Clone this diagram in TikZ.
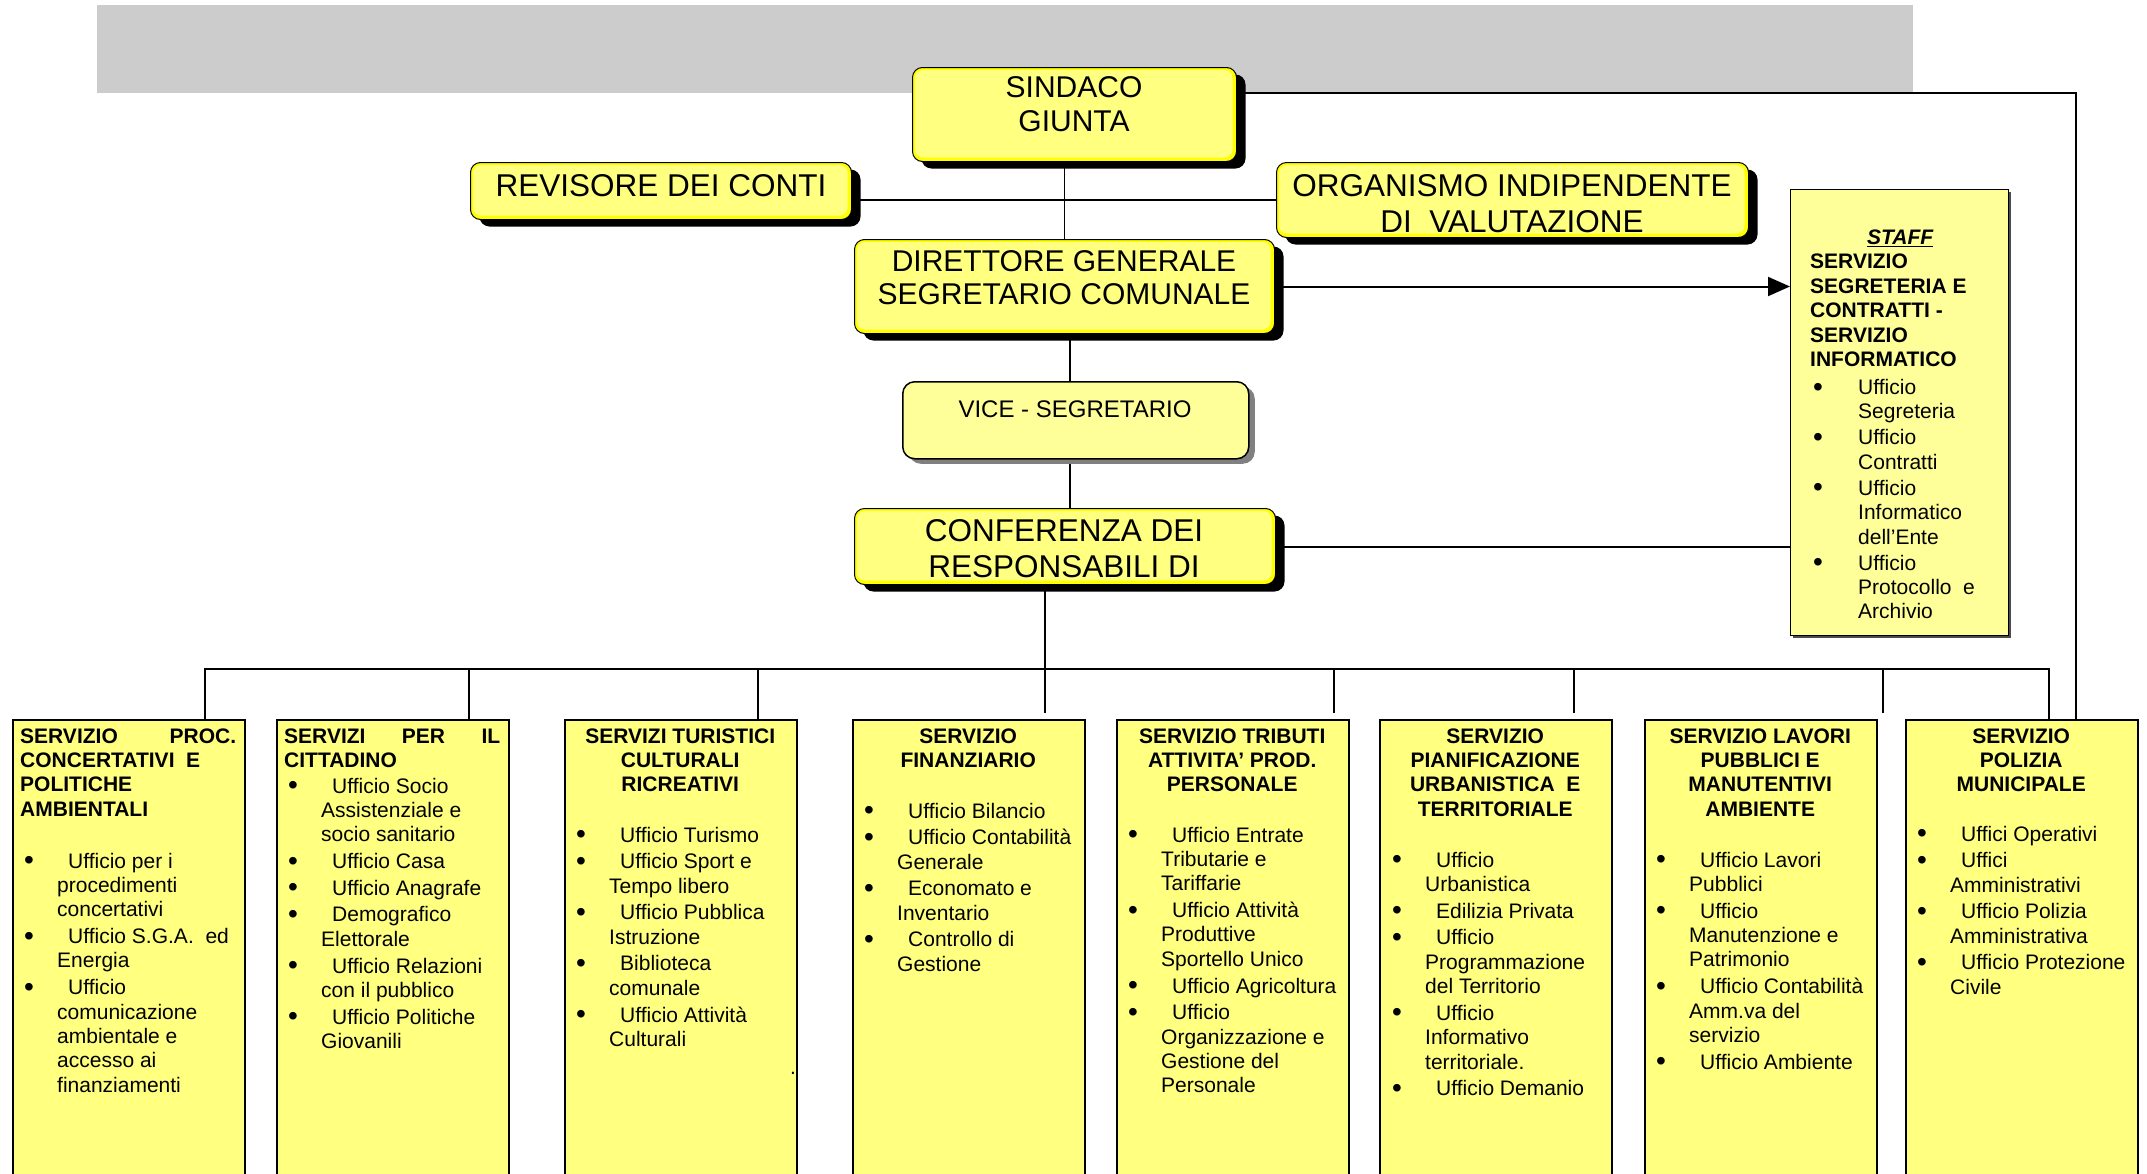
\documentclass[tikz,border=0pt]{standalone}
\usepackage{fontspec}
\setmainfont{Liberation Sans}
\usetikzlibrary{arrows.meta,backgrounds,shadows}
\definecolor{boxy}{RGB}{255,255,128}
\definecolor{boxl}{RGB}{255,255,153}
\definecolor{bandgray}{RGB}{204,204,204}
\definecolor{brightyel}{RGB}{255,255,0}
\newcommand\bigtxt[3]{{\fontsize{#1}{#2}\selectfont\begin{tabular}[t]{@{}c@{}}#3\end{tabular}}}
\newcommand\bigbul{\raisebox{-1.6pt}{\fontsize{28}{24}\selectfont\textbullet}}
\newcommand\bitem{\par\noindent\llap{\bigbul\hspace{23.2pt}}\hspace*{11pt}\ignorespaces}
\newcommand\sitem{\par\noindent\llap{\bigbul\hspace{35.2pt}}\ignorespaces}
\newenvironment{headbox}{\begin{minipage}[t]{216pt}\fontsize{21}{24.4}\selectfont\bfseries\centering}{\end{minipage}}
\newenvironment{itembox}{\begin{minipage}[t]{200pt}\fontsize{21}{24.4}\selectfont\raggedright\parskip=2.3pt\relax}{\end{minipage}}
\begin{document}
\begin{tikzpicture}[x=1pt,y=-1pt,
  bigbox/.style={draw=black, line width=1pt, rounded corners=10pt, fill=brightyel,
    inner sep=0pt, anchor=north west,
    general shadow={fill=black, shadow xshift=9pt, shadow yshift=-7pt},
    path picture={\fill[boxy, rounded corners=8pt]
      ([shift={(2.5pt,-2.5pt)}]path picture bounding box.north west) rectangle
      ([shift={(-4pt,4pt)}]path picture bounding box.south east);}},
  vicebox/.style={draw=black, line width=1.5pt, rounded corners=12pt, fill=boxl,
    inner sep=0pt, anchor=north west,
    general shadow={fill=black!50, shadow xshift=6pt, shadow yshift=-5pt}},
  staffbox/.style={draw=black, line width=1.2pt, fill=boxl, inner sep=0pt, anchor=north west,
    general shadow={fill=black!70, shadow xshift=2.5pt, shadow yshift=-2.5pt}},
  servbox/.style={draw=black, line width=2pt, fill=boxy, inner sep=0pt, anchor=north west,
    minimum width=232pt, minimum height=520pt},
  txt/.style={inner sep=0pt, anchor=base},
  ltxt/.style={inner sep=0pt, anchor=base west},
  conn/.style={line width=1.5pt},
  hconn/.style={line width=2pt},
  bus/.style={line width=2.5pt}
]
\useasboundingbox (0,0) rectangle (2147,1173);

% ---- top boxes
\node[bigbox, minimum width=324pt, minimum height=94pt] (sind) at (912,67) {};
\node[bigbox, minimum width=381pt, minimum height=57pt] (rev) at (470,162) {};
\node[bigbox, minimum width=472pt, minimum height=75pt] (org) at (1276,162) {};
\node[bigbox, minimum width=420pt, minimum height=94pt] (dir) at (854,239) {};
\node[vicebox, minimum width=346pt, minimum height=77pt] (vice) at (902,381) {};
\node[bigbox, minimum width=421pt, minimum height=76pt] (conf) at (854,508) {};
\node[staffbox, minimum width=218pt, minimum height=446pt] (staff) at (1790,189) {};

\node[txt] (sindt) at (1074,97.5) {\bigtxt{30}{34}{SINDACO\\GIUNTA}};
\node[txt] (revt) at (661,196) {\bigtxt{31.5}{36}{REVISORE DEI CONTI}};
\node[txt] (orgt) at (1512,196) {\bigtxt{31.5}{36}{ORGANISMO INDIPENDENTE\\DI\ \ VALUTAZIONE}};
\node[txt] (dirt) at (1064,271) {\bigtxt{30}{33.5}{DIRETTORE GENERALE\\SEGRETARIO COMUNALE}};
\node[txt] (vicet) at (1075,417.5) {\bigtxt{24}{28}{VICE - SEGRETARIO}};
\node[txt] (conft) at (1064,541) {\bigtxt{31.5}{36.5}{CONFERENZA DEI\\RESPONSABILI DI}};

\node[ltxt] (stafft) at (1810,244.5) {\begin{minipage}[t]{180pt}\fontsize{21}{24.4}\selectfont
{\centering\bfseries\itshape\underline{STAFF}\par}
\textbf{SERVIZIO\\SEGRETERIA E\\CONTRATTI -\\SERVIZIO\\INFORMATICO}\par
\vspace{2pt}
\raggedright\leftskip=48pt\parskip=1.6pt\relax
\sitem Ufficio\\Segreteria
\sitem Ufficio\\Contratti
\sitem Ufficio\\Informatico\\dell’Ente
\sitem Ufficio\\Protocollo\ \ e\\Archivio
\end{minipage}};

% ---- service boxes
\node[servbox] (b1) at (12,719) {};
\node[servbox] (b2) at (276,719) {};
\node[servbox] (b3) at (564,719) {};
\node[servbox] (b4) at (852,719) {};
\node[servbox] (b5) at (1116,719) {};
\node[servbox] (b6) at (1379,719) {};
\node[servbox] (b7) at (1644,719) {};
\node[servbox] (b8) at (1905,719) {};

% headings
\node[ltxt] (b1h) at (20,743) {\begin{headbox}\makebox[216pt]{SERVIZIO\hfill PROC.}\\CONCERTATIVI\ \ E\hfill\null\\POLITICHE\hfill\null\\AMBIENTALI\hfill\null\end{headbox}};
\node[ltxt] (b2h) at (284,743) {\begin{headbox}\makebox[216pt]{SERVIZI\hfill PER\hfill IL}\\CITTADINO\hfill\null\end{headbox}};
\node[ltxt] (b3h) at (572,743) {\begin{headbox}SERVIZI TURISTICI\\CULTURALI\\RICREATIVI\end{headbox}};
\node[ltxt] (b4h) at (860,743) {\begin{headbox}SERVIZIO\\FINANZIARIO\end{headbox}};
\node[ltxt] (b5h) at (1124,743) {\begin{headbox}SERVIZIO TRIBUTI\\ATTIVITA’ PROD.\\PERSONALE\end{headbox}};
\node[ltxt] (b6h) at (1387,743) {\begin{headbox}SERVIZIO\\PIANIFICAZIONE\\URBANISTICA\ \ E\\TERRITORIALE\end{headbox}};
\node[ltxt] (b7h) at (1652,743) {\begin{headbox}SERVIZIO LAVORI\\PUBBLICI E\\MANUTENTIVI\\AMBIENTE\end{headbox}};
\node[ltxt] (b8h) at (1913,743) {\begin{headbox}SERVIZIO\\POLIZIA\\MUNICIPALE\end{headbox}};

% items
\node[ltxt] (b1i) at (57,868) {\begin{itembox}
\bitem Ufficio per i\\procedimenti\\concertativi
\bitem Ufficio S.G.A.\ \ ed\\Energia
\bitem Ufficio\\comunicazione\\ambientale e\\accesso ai\\finanziamenti
\end{itembox}};
\node[ltxt] (b2i) at (321,793) {\begin{itembox}
\bitem Ufficio Socio\\Assistenziale e\\socio sanitario
\bitem Ufficio Casa
\bitem Ufficio Anagrafe
\bitem Demografico\\Elettorale
\bitem Ufficio Relazioni\\con il pubblico
\bitem Ufficio Politiche\\Giovanili
\end{itembox}};
\node[ltxt] (b3i) at (609,842) {\begin{itembox}
\bitem Ufficio Turismo
\bitem Ufficio Sport e\\Tempo libero
\bitem Ufficio Pubblica\\Istruzione
\bitem Biblioteca\\comunale
\bitem Ufficio Attività\\Culturali
\end{itembox}};
\node[ltxt] (b3dot) at (790,1074) {\fontsize{21}{24}\selectfont .};
\node[ltxt] (b4i) at (897,818) {\begin{itembox}
\bitem Ufficio Bilancio
\bitem Ufficio Contabilità\\Generale
\bitem Economato e\\Inventario
\bitem Controllo di\\Gestione
\end{itembox}};
\node[ltxt] (b5i) at (1161,842) {\begin{itembox}
\bitem Ufficio Entrate\\Tributarie e\\Tariffarie
\bitem Ufficio Attività\\Produttive\\Sportello Unico
\bitem Ufficio Agricoltura
\bitem Ufficio\\Organizzazione e\\Gestione del\\Personale
\end{itembox}};
\node[ltxt] (b6i) at (1425,867) {\begin{itembox}
\bitem Ufficio\\Urbanistica
\bitem Edilizia Privata
\bitem Ufficio\\Programmazione\\del Territorio
\bitem Ufficio\\Informativo\\territoriale.
\bitem Ufficio Demanio
\end{itembox}};
\node[ltxt] (b7i) at (1689,867) {\begin{itembox}
\bitem Ufficio Lavori\\Pubblici
\bitem Ufficio\\Manutenzione e\\Patrimonio
\bitem Ufficio Contabilità\\Amm.va del\\servizio
\bitem Ufficio Ambiente
\end{itembox}};
\node[ltxt] (b8i) at (1950,841) {\begin{itembox}
\bitem Uffici Operativi
\bitem Uffici\\Amministrativi
\bitem Ufficio Polizia\\Amministrativa
\bitem Ufficio Protezione\\Civile
\end{itembox}};

% ---- connectors
\begin{scope}[on background layer]
\fill[bandgray] (97,5) rectangle (1913,93);
\draw[conn] (dir.north) -- (dir.north |- sind.south);
\draw[hconn] (org.west -| rev.east) -- (org.west);
\draw[hconn, -{Triangle[length=22pt,width=19pt]}] (dir.east) -- (dir.east -| staff.west);
\draw[hconn] (conf.east) -- (conf.east -| staff.west);
\coordinate (sk) at (2076,93);
\draw[hconn] (sk -| sind.east) -- (sk) -- (sk |- b8.north);
\coordinate (vx) at (1070,0);
\draw[conn] (vx |- dir.south) -- (vx |- vice.north);
\draw[conn] (vx |- vice.south) -- (vx |- conf.north);
\coordinate (trunk) at (1045,713);
\draw[conn] (trunk |- conf.south) -- (trunk);
\coordinate (busL) at (205,669);
\coordinate (busR) at (2049,669);
\draw[bus] (busL |- b1.north) -- (busL) -- (busR) -- (busR |- b8.north);
\draw[conn] (469,669) -- (469,0 |- b2.north);
\draw[conn] (758,669) -- (758,0 |- b3.north);
\draw[conn] (1334,669) -- (1334,713);
\draw[conn] (1574,669) -- (1574,713);
\draw[conn] (1883,669) -- (1883,713);
\end{scope}
\end{tikzpicture}
\end{document}
